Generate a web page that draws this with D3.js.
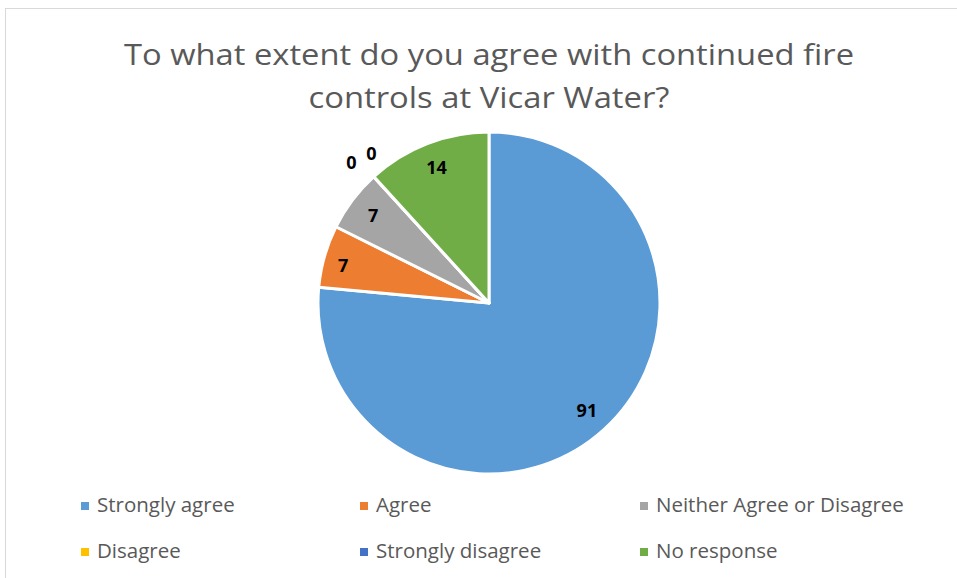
<!DOCTYPE html>
<html><head><meta charset="utf-8">
<script src="https://cdn.jsdelivr.net/npm/d3@7/dist/d3.min.js"></script>
<style>
html,body{margin:0;padding:0;background:#fff;}
svg{display:block;}
</style></head>
<body>
<script>
const categories = ["Strongly agree","Agree","Neither Agree or Disagree","Disagree","Strongly disagree","No response"];
const values = [91,7,7,0,0,14];
const colors = ["#5B9BD5","#ED7D31","#A5A5A5","#FFC000","#4472C4","#70AD47"];
const titleLines = ["To what extent do you agree with continued fire","controls at Vicar Water?"];

const W=957,H=578;
const svg=d3.select("body").append("svg").attr("width",W).attr("height",H);
svg.append("rect").attr("x",5.5).attr("y",8.5).attr("width",W).attr("height",H).attr("fill","#fff").attr("stroke","#d9d9d9").attr("stroke-width",1);

const titleWidths=[730,361];
const title=svg.append("text").attr("text-anchor","middle").attr("fill","#595959")
  .style("font-family","'Open Sans',sans-serif").style("font-size","30px");
titleLines.forEach((t,i)=>title.append("tspan").attr("x",489).attr("y",65+i*43)
  .attr("textLength",titleWidths[i]).attr("lengthAdjust","spacingAndGlyphs").text(t));

const cx=489,cy=303,R=171;
const pie=d3.pie().sort(null).value(d=>d)(values);
const arc=d3.arc().innerRadius(0).outerRadius(R);
const g=svg.append("g").attr("transform",`translate(${cx},${cy})`);
g.selectAll("path").data(pie).enter().append("path")
  .attr("d",arc).attr("fill",(d,i)=>colors[i]).attr("stroke","#fff").attr("stroke-width",3).attr("stroke-linejoin","round");

const labArc=d3.arc().innerRadius(R*0.85).outerRadius(R*0.85);
const outArc=d3.arc().innerRadius(R*1.1).outerRadius(R*1.1);
let zi=0;
g.selectAll("text.lab").data(pie).enter().append("text").attr("class","lab")
  .attr("text-anchor","middle").attr("dominant-baseline","central")
  .style("font-family","'Open Sans',sans-serif").style("font-weight","bold").style("font-size","18px").attr("fill","#000")
  .each(function(d,i){
    let p;
    if(d.value===0){ p=outArc.centroid(d); p=[p[0]-11+zi*20,p[1]+(zi===0?-2:-11)]; zi++; }
    else p=labArc.centroid(d);
    if(i===1) p=[p[0]-6,p[1]+2];
    d3.select(this).attr("x",p[0]).attr("y",p[1]).text(d.value);
  });

const legX=[81,360,640], legY=[512,558];
categories.forEach((c,i)=>{
  const x=legX[i%3], y=legY[Math.floor(i/3)];
  svg.append("rect").attr("x",x).attr("y",y-10).attr("width",8).attr("height",8).attr("fill",colors[i]);
  svg.append("text").attr("x",x+16).attr("y",y).attr("fill","#595959")
    .style("font-family","'Open Sans',sans-serif").style("font-size","20.5px").text(c);
});
</script>
</body></html>
